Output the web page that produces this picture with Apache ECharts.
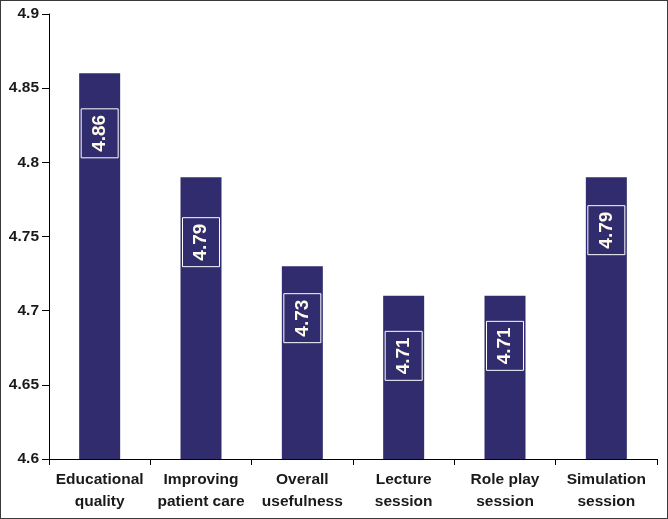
<!DOCTYPE html>
<html>
<head>
<meta charset="utf-8">
<script src="https://cdn.jsdelivr.net/npm/echarts@6/dist/echarts.min.js"></script>
<style>
html,body{margin:0;padding:0;background:#fff;}
#c{width:668px;height:519px;box-sizing:border-box;border:1px solid #3a3a3a;}
</style>
</head>
<body>
<div id="c"></div>
<script>
var categories = ['Educational\nquality', 'Improving\npatient care', 'Overall\nusefulness', 'Lecture\nsession', 'Role play\nsession', 'Simulation\nsession'];
var values = [4.86, 4.79, 4.73, 4.71, 4.71, 4.79];
var yTicks = {min: 4.6, max: 4.9, interval: 0.05};

// label centre offset from bar top (style only)
var labelOffsets = [60, 65, 52, 60, 50, 53];

var chart = echarts.init(document.getElementById('c'), null, {renderer: 'canvas'});
var font = 'Liberation Sans, Arial, sans-serif';
chart.setOption({
  animation: false,
  grid: {left: 48, right: 10, top: 13, bottom: 59, containLabel: false},
  xAxis: {
    type: 'category',
    data: categories,
    axisLine: {lineStyle: {color: '#000', width: 1}},
    axisTick: {show: true, length: 6, lineStyle: {color: '#000'}},
    axisLabel: {color: '#1a1a1a', fontFamily: font, fontWeight: 'bold', fontSize: 15.5, lineHeight: 22, margin: 10, interval: 0}
  },
  yAxis: {
    type: 'value',
    min: yTicks.min, max: yTicks.max, interval: yTicks.interval,
    axisLine: {show: true, lineStyle: {color: '#000', width: 1}},
    axisTick: {show: true, length: 7, lineStyle: {color: '#000'}},
    splitLine: {show: false},
    axisLabel: {color: '#1a1a1a', fontFamily: font, fontWeight: 'bold', fontSize: 15.5, margin: 10,
      formatter: function (v) { return String(parseFloat(v.toFixed(2))); }}
  },
  series: [{
    type: 'bar',
    barWidth: 41,
    itemStyle: {color: '#302c6e'},
    data: values.map(function (v, i) {
      return {
        value: v,
        label: {
          show: true,
          position: ['50%', labelOffsets[i]],
          rotate: 90,
          align: 'center',
          verticalAlign: 'middle',
          formatter: function (p) { return p.value.toFixed(2); },
          color: '#fffbea',
          fontFamily: font,
          fontWeight: 'bold',
          fontSize: 19,
          lineHeight: 20,
          padding: [9, 6, 8, 6],
          borderColor: '#ffffff',
          borderWidth: 1
        }
      };
    })
  }]
});
</script>
</body>
</html>
